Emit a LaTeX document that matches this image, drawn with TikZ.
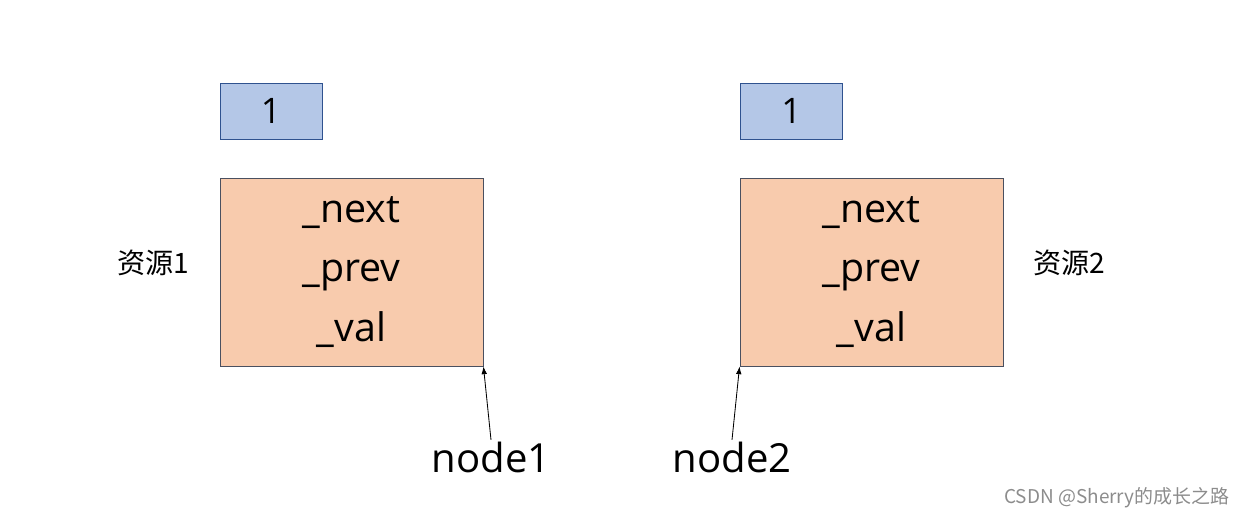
\documentclass[tikz,border=0pt]{standalone}
\usepackage{fontspec}
\setmainfont{Open Sans}
\newfontfamily\cjk{Noto Sans CJK SC}
\usepackage{tikz}
\usetikzlibrary{positioning,arrows.meta}

\definecolor{valfill}{HTML}{B4C7E7}
\definecolor{valline}{HTML}{2F528F}
\definecolor{nodefill}{HTML}{F8CBAD}
\definecolor{nodeline}{HTML}{4A5060}
\definecolor{markgray}{HTML}{8C8C8C}

\begin{document}
\begin{tikzpicture}[x=0.025cm,y=-0.025cm,
    valbox/.style={draw=valline,fill=valfill,line width=0.6pt,minimum width=2.55cm,
        minimum height=1.4cm,inner sep=0pt,font=\fontsize{25}{30}\selectfont},
    nodebox/.style={draw=nodeline,fill=nodefill,line width=0.6pt,minimum width=6.575cm,
        minimum height=4.7cm,inner sep=0pt,align=center,font=\fontsize{28}{42.5}\selectfont},
    reslabel/.style={font=\cjk\fontsize{20}{24}\selectfont},
    ptrlabel/.style={font=\fontsize{28.5}{34}\selectfont,inner sep=1pt},
    ptr/.style={-{Latex[length=5.5pt,width=4pt]},line width=0.6pt}]
    \useasboundingbox (0,0) rectangle (1244,518);

    % left resource
    \node[valbox] (val1) at (271,111) {1};
    \node[nodebox] (node1) at (351.5,272) {\_next\\\_prev\\\_val};
    \node[reslabel] (res1) at (153,263) {资源1};

    % right resource
    \node[valbox] (val2) at (791.5,111) {1};
    \node[nodebox] (node2) at (871.5,272) {\_next\\\_prev\\\_val};
    \node[reslabel] (res2) at (1069,263) {资源2};

    % pointers
    \node[ptrlabel] (lbl1) at (491,457) {node1};
    \node[ptrlabel] (lbl2) at (732,457) {node2};
    \draw[ptr] (lbl1.north) -- (node1.south east);
    \draw[ptr] (lbl2.north) -- (node2.south west);

    \node[font=\cjk\fontsize{13.5}{16}\selectfont,text=markgray] (mark) at (1117,498) {CSDN @Sherry的成长之路};
\end{tikzpicture}
\end{document}
